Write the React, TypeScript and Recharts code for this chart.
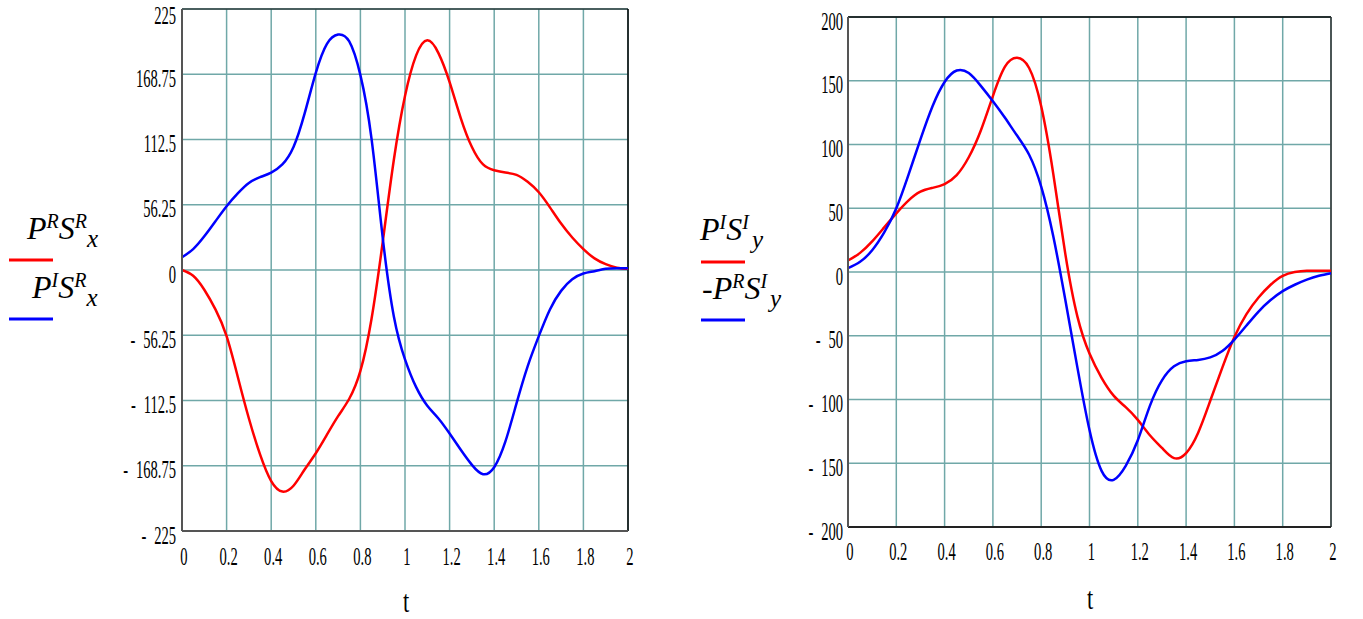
import React from "react";
import { LineChart, Line, XAxis, YAxis, CartesianGrid, ReferenceLine } from "recharts";

const tValues = [0, 0.05, 0.1, 0.15, 0.2, 0.25, 0.3, 0.35, 0.4, 0.45, 0.5, 0.55, 0.6, 0.65, 0.7, 0.75, 0.8, 0.85, 0.9, 0.95, 1.0, 1.05, 1.1, 1.15, 1.2, 1.25, 1.3, 1.35, 1.4, 1.45, 1.5, 1.55, 1.6, 1.65, 1.7, 1.75, 1.8, 1.85, 1.9, 1.95, 2.0];

// Left chart: P^R S^R_x (red), P^I S^R_x (blue)
const prsrx = [0, -5, -17, -34, -57, -92, -128, -159, -182, -191, -186, -172, -158, -142, -126, -111, -87, -42, 24, 95, 150, 185, 198, 187, 162, 131, 106, 91, 86, 84, 82, 76, 67, 54, 40, 28, 18, 10, 5, 2, 1];
const pisrx = [11, 18, 29, 42, 55, 66, 75, 80, 84, 91, 106, 135, 170, 195, 203, 197, 168, 113, 28, -40, -77, -101, -117, -128, -141, -155, -168, -176, -170, -148, -115, -83, -57, -34, -18, -8, -3, -1, 1, 1.5, 1.5];

// Right chart: P^I S^I_y (red), -P^R S^I_y (blue)
const pisiy = [9, 15, 24, 35, 46, 56, 63, 66, 69, 76, 90, 111, 138, 161, 168, 160, 130, 77, 14, -35, -64, -83, -97, -106, -116, -128, -138, -146, -142, -126, -101, -75, -51, -33, -20, -10, -3, 0, 1, 1, 1];
const mprsiy = [3, 8, 17, 31, 50, 76, 104, 130, 149, 158, 156, 146, 134, 121, 107, 92, 67, 28, -22, -75, -124, -156, -163, -152, -132, -105, -85, -74, -70, -69, -67, -62, -53, -42, -31, -22, -15, -10, -6, -3, -1];

const xTicks = [0, 0.2, 0.4, 0.6, 0.8, 1, 1.2, 1.4, 1.6, 1.8, 2];
const xTickLabels = ["0", "0.2", "0.4", "0.6", "0.8", "1", "1.2", "1.4", "1.6", "1.8", "2"];

const leftYTicks = [-225, -168.75, -112.5, -56.25, 0, 56.25, 112.5, 168.75, 225];
const leftYLabels = ["- 225", "- 168.75", "- 112.5", "- 56.25", "0", "56.25", "112.5", "168.75", "225"];

const rightYTicks = [-200, -150, -100, -50, 0, 50, 100, 150, 200];
const rightYLabels = ["- 200", "- 150", "- 100", "- 50", "0", "50", "100", "150", "200"];

const leftData = tValues.map((t, i) => ({ t, a: prsrx[i], b: pisrx[i] }));
const rightData = tValues.map((t, i) => ({ t, a: pisiy[i], b: mprsiy[i] }));

const FONT = "'Liberation Serif', 'Times New Roman', serif";
const GRID = "#70a8a8";
const SX = 0.56;
const TFS = 26;

const XTick = (props: any) => {
  const { x, y, payload } = props;
  const idx = xTicks.findIndex((v) => Math.abs(v - payload.value) < 1e-6);
  const label = idx >= 0 ? xTickLabels[idx] : String(payload.value);
  return (
    <g transform={`translate(${x + 2},${y})`}>
      <text transform={`scale(${SX},1)`} textAnchor="middle" dominantBaseline="central" fontFamily={FONT} fontSize={TFS} fill="#000">
        {label}
      </text>
    </g>
  );
};

const makeYTick = (ticks: number[], labels: string[]) => (props: any) => {
  const { x, y, payload } = props;
  const idx = ticks.findIndex((v) => Math.abs(v - payload.value) < 1e-6);
  const label = idx >= 0 ? labels[idx] : String(payload.value);
  const neg = label.startsWith("- ");
  const cy = Math.max(y + 4, 15);
  return (
    <g transform={`translate(${x},${cy})`}>
      <text transform={`scale(${SX},1)`} textAnchor="end" dominantBaseline="central" fontFamily={FONT} fontSize={TFS} fill="#000">
        {neg ? (
          <>
            <tspan>-</tspan>
            <tspan dx={14}>{label.slice(2)}</tspan>
          </>
        ) : (
          label
        )}
      </text>
    </g>
  );
};

const LeftYTick = makeYTick(leftYTicks, leftYLabels);
const RightYTick = makeYTick(rightYTicks, rightYLabels);

const SUP = 20;
const SUB = 25;

const Legend = () => (
  <svg width={1363} height={619} style={{ position: "absolute", left: 0, top: 0, pointerEvents: "none" }}>
    <g fontFamily={FONT} fontStyle="italic" fill="#000">
      <text x={27} y={239} fontSize={32}>
        P<tspan dy={-11} fontSize={SUP}>R</tspan>
        <tspan dy={11} fontSize={32}>S</tspan>
        <tspan dy={-11} fontSize={SUP}>R</tspan>
        <tspan dy={19} fontSize={SUB}>x</tspan>
      </text>
      <line x1={9} x2={53} y1={260} y2={260} stroke="#ff0000" strokeWidth={3} />
      <text x={32} y={298} fontSize={32}>
        P<tspan dy={-11} fontSize={SUP}>I</tspan>
        <tspan dy={11} fontSize={32}>S</tspan>
        <tspan dy={-11} fontSize={SUP}>R</tspan>
        <tspan dy={19} fontSize={SUB}>x</tspan>
      </text>
      <line x1={9} x2={53} y1={319} y2={319} stroke="#0000ff" strokeWidth={3} />

      <text x={700} y={240} fontSize={32}>
        P<tspan dy={-11} fontSize={SUP}>I</tspan>
        <tspan dy={11} fontSize={32}>S</tspan>
        <tspan dy={-11} fontSize={SUP}>I</tspan>
        <tspan dy={19} fontSize={SUB} dx={3}>y</tspan>
      </text>
      <line x1={701} x2={745} y1={262} y2={262} stroke="#ff0000" strokeWidth={3} />
      <text x={702} y={299} fontSize={32}>
        <tspan fontStyle="normal">-</tspan>P<tspan dy={-11} fontSize={SUP}>R</tspan>
        <tspan dy={11} fontSize={32}>S</tspan>
        <tspan dy={-11} fontSize={SUP}>I</tspan>
        <tspan dy={19} fontSize={SUB} dx={3}>y</tspan>
      </text>
      <line x1={701} x2={745} y1={320} y2={320} stroke="#0000ff" strokeWidth={3} />
    </g>
    <g fontFamily={FONT} fill="#000">
      <text transform={`translate(406,612) scale(0.7,1)`} textAnchor="middle" fontSize={32}>t</text>
      <text transform={`translate(1090,609) scale(0.7,1)`} textAnchor="middle" fontSize={32}>t</text>
    </g>
  </svg>
);

export default function App() {
  return (
    <div style={{ position: "absolute", left: 0, top: 0, width: 1363, height: 619, background: "#fff" }}>
      <div style={{ position: "absolute", left: 100, top: 0 }}>
        <LineChart width={540} height={619} data={leftData} margin={{ top: 9, right: 12, left: 0, bottom: 0 }}>
          <CartesianGrid stroke={GRID} strokeWidth={1.5} />
          <XAxis
            dataKey="t"
            type="number"
            domain={[0, 2]}
            ticks={xTicks}
            height={88}
            tickSize={0}
            tickMargin={25}
            tick={<XTick />}
            axisLine={{ stroke: "#555", strokeWidth: 2 }}
            interval={0}
          />
          <YAxis
            type="number"
            domain={[-225, 225]}
            ticks={leftYTicks}
            width={82}
            tickSize={0}
            tickMargin={6}
            tick={<LeftYTick />}
            axisLine={{ stroke: "#555", strokeWidth: 2 }}
            interval={0}
          />
          <ReferenceLine y={225} stroke="#000" strokeWidth={1.2} />
          <ReferenceLine x={2} stroke="#000" strokeWidth={1.5} />
          <Line type="natural" dataKey="a" stroke="#ff0000" strokeWidth={2.5} dot={false} isAnimationActive={false} />
          <Line type="natural" dataKey="b" stroke="#0000ff" strokeWidth={2.5} dot={false} isAnimationActive={false} />
        </LineChart>
      </div>
      <div style={{ position: "absolute", left: 760, top: 0 }}>
        <LineChart width={600} height={619} data={rightData} margin={{ top: 17, right: 29, left: 0, bottom: 0 }}>
          <CartesianGrid stroke={GRID} strokeWidth={1.5} />
          <XAxis
            dataKey="t"
            type="number"
            domain={[0, 2]}
            ticks={xTicks}
            height={92}
            tickSize={0}
            tickMargin={24}
            tick={<XTick />}
            axisLine={{ stroke: "#222", strokeWidth: 2 }}
            interval={0}
          />
          <YAxis
            type="number"
            domain={[-200, 200]}
            ticks={rightYTicks}
            width={88}
            tickSize={0}
            tickMargin={5}
            tick={<RightYTick />}
            axisLine={{ stroke: "#555", strokeWidth: 2 }}
            interval={0}
          />
          <ReferenceLine y={200} stroke="#000" strokeWidth={1.5} />
          <ReferenceLine x={2} stroke="#333" strokeWidth={1.5} />
          <Line type="natural" dataKey="a" stroke="#ff0000" strokeWidth={2.5} dot={false} isAnimationActive={false} />
          <Line type="natural" dataKey="b" stroke="#0000ff" strokeWidth={2.5} dot={false} isAnimationActive={false} />
        </LineChart>
      </div>
      <Legend />
    </div>
  );
}
